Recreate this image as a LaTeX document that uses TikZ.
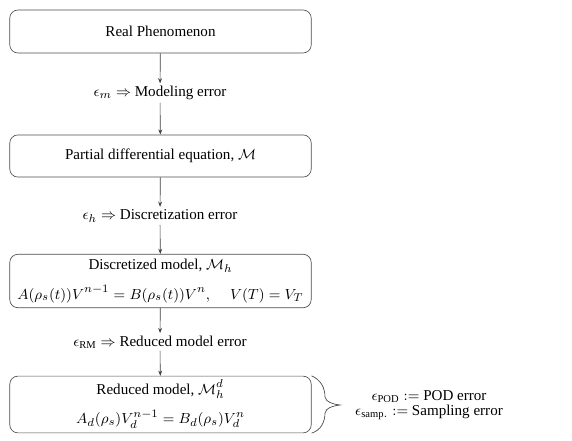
\documentclass[tikz,border=0pt]{standalone}
\usepackage{amsmath}
\usepackage{amssymb}
\usepackage{fontspec}
\setmainfont{Liberation Serif}
\usetikzlibrary{positioning,arrows.meta}

\begin{document}
\begin{tikzpicture}[x=0.617pt,y=-0.617pt,
  every node/.style={font=\fontsize{9.3pt}{11.2pt}\selectfont},
  stage/.style={draw=black!70,rounded corners=5pt,minimum width=186pt,align=center,inner sep=0pt},
  errlabel/.style={inner sep=1.5pt},
  flow/.style={-{Stealth[length=3.2pt,width=2.4pt]},draw=black!75,line width=0.4pt}]
\useasboundingbox (0,0) rectangle (572,440);
% stages of the model chain
\node[stage,minimum height=26.5pt] (real) at (160.5,31.5) {Real Phenomenon};
\node[errlabel] (errm) at (160,93) {$\epsilon_m \Rightarrow$ Modeling error};
\node[stage,minimum height=26pt] (pde) at (160.5,156) {Partial differential equation, $\mathcal{M}$};
\node[errlabel] (errh) at (160,216) {$\epsilon_h \Rightarrow$ Discretization error};
\node[stage,minimum height=33pt] (disc) at (160.5,281) {Discretized model, $\mathcal{M}_h$\\[7pt]
  $A(\rho_s(t))V^{n-1} = B(\rho_s(t))V^n, \quad\, V(T) = V_T$};
\node[errlabel] (errrm) at (160,342) {$\epsilon_{\mathrm{RM}} \Rightarrow$ Reduced model error};
\node[stage,minimum height=35pt] (red) at (160.5,404.5) {Reduced model, $\mathcal{M}_h^d$\\[7pt]
  $A_d(\rho_s)V_d^{n-1} = B_d(\rho_s)V_d^n$};
% arrows
\draw[flow] (real) -- (errm);
\draw[flow] (errm) -- (pde);
\draw[flow] (pde) -- (errh);
\draw[flow] (errh) -- (disc);
\draw[flow] (disc) -- (errrm);
\draw[flow] (errrm) -- (red);
% brace and sub-errors
\coordinate (btop) at (red.north east);
\coordinate (bbot) at (red.south east);
\coordinate (btip) at (340,405);
\draw[black!75,line width=0.4pt] (btop) .. controls (321,380) and (325,388) .. (325,397)
  .. controls (326,402) and (332,404) .. (btip)
  .. controls (332,406) and (326,408) .. (325,413)
  .. controls (325,422) and (321,430) .. (bbot);
\node[align=center,inner sep=0pt] (suberr) at (429,405) {$\epsilon_{\mathrm{POD}} :=$ POD error\\[-2pt]
  $\epsilon_{\mathrm{samp.}} :=$ Sampling error};
\end{tikzpicture}
\end{document}
